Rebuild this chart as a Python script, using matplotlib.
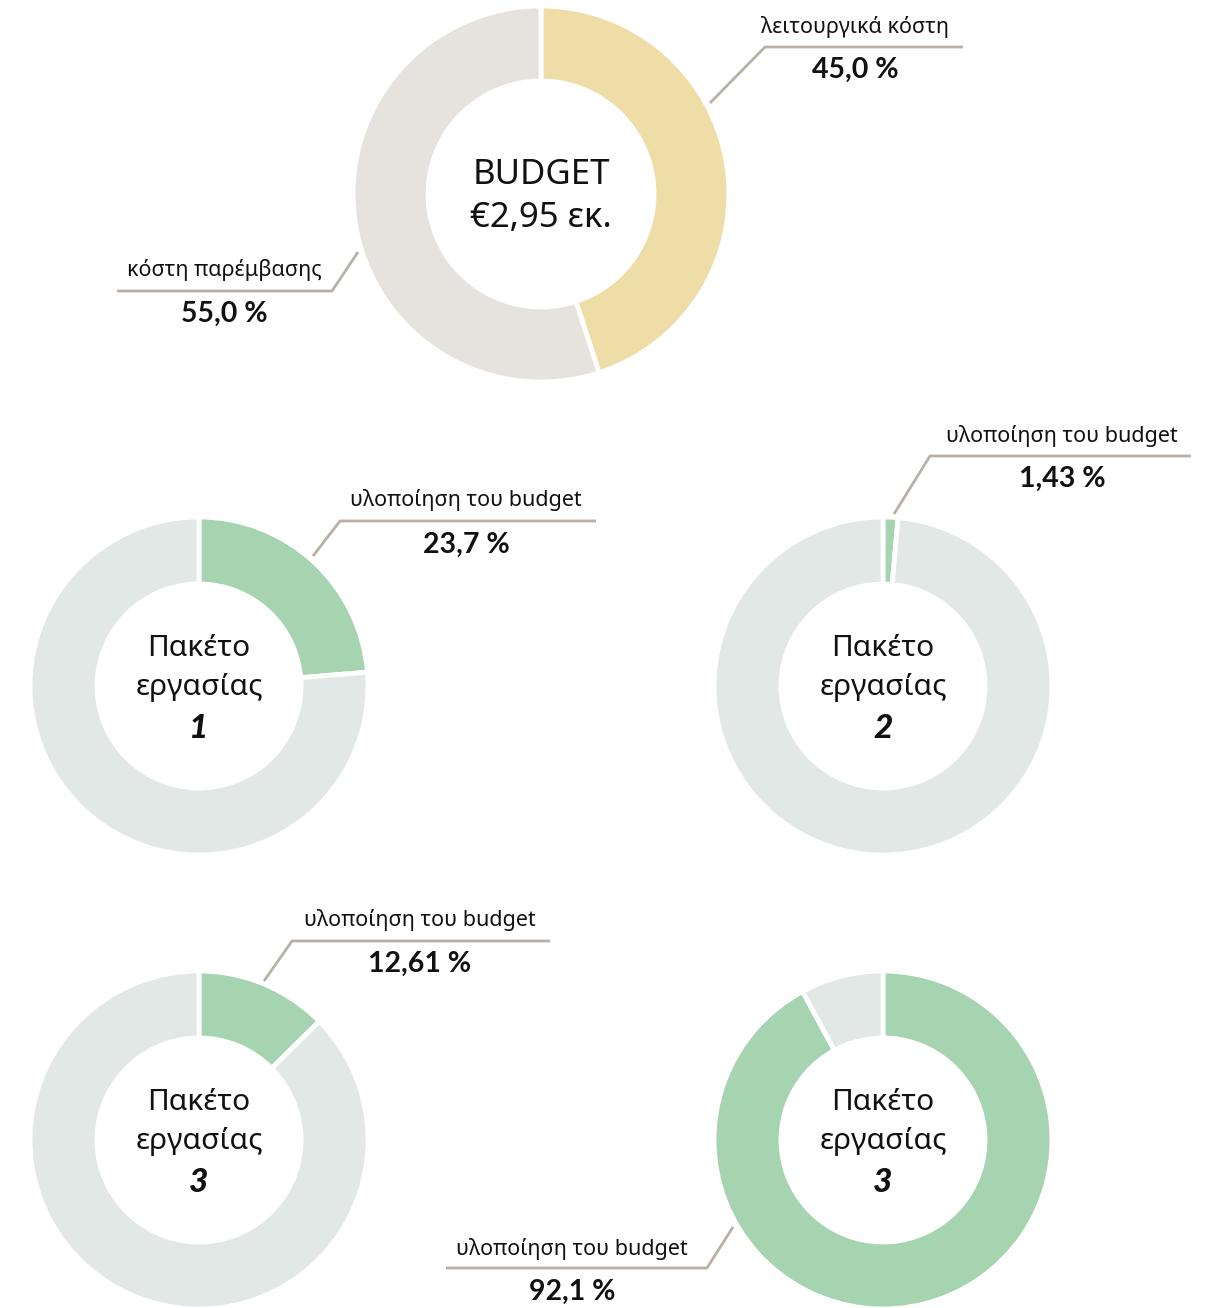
import matplotlib
matplotlib.use("Agg")
import matplotlib.pyplot as plt

plt.rcParams['font.family'] = ['Noto Sans', 'DejaVu Sans']

# data
top_labels = ['λειτουργικά κόστη', 'κόστη παρέμβασης']
top_values = [45.0, 55.0]
top_texts = ['45,0 %', '55,0 %']
budget_title = ['BUDGET', '€2,95 εκ.']

wp_label = 'υλοποίηση του budget'
wp_numbers = ['1', '2', '3', '3']
wp_values = [23.7, 1.43, 12.61, 92.1]
wp_texts = ['23,7 %', '1,43 %', '12,61 %', '92,1 %']

W, H = 1227, 1308
fig = plt.figure(figsize=(W / 100, H / 100), dpi=100)
ax = fig.add_axes([0, 0, 1, 1])

line_col = '#b9b0a6'
yellow = '#efdda8'
grey_top = '#e6e2dd'
green = '#a6d3b0'
grey_wp = '#e1e8e5'
bold_font = ['Lato', 'Open Sans', 'DejaVu Sans']


def Y(py):
    return H - py


def leader(pts):
    xs = [p[0] for p in pts]
    ys = [Y(p[1]) for p in pts]
    ax.plot(xs, ys, color=line_col, lw=2, solid_capstyle='butt', zorder=3)


def label(x, y_lab, y_val, name, val):
    ax.text(x, Y(y_lab), name, ha='center', va='center', fontsize=15.5, color='#111111')
    ax.text(x, Y(y_val), val, ha='center', va='center', fontsize=20.5, fontweight='bold',
            family=bold_font, color='#111111')


# top donut
ax.pie(top_values, center=(541, Y(194)), radius=188, startangle=90, counterclock=False,
       colors=[yellow, grey_top], wedgeprops=dict(width=75, edgecolor='white', linewidth=3.5))
ax.text(541, Y(175), budget_title[0], ha='center', va='center', fontsize=25, color='#111111')
ax.text(541, Y(218), budget_title[1], ha='center', va='center', fontsize=25, color='#111111')

leader([(710, 103), (765, 47), (963, 47)])
label(855, 27, 70, top_labels[0], top_texts[0])
leader([(117, 291), (332, 291), (358, 252)])
label(224, 270, 314, top_labels[1], top_texts[1])

# work package donuts
centers = [(199, 686), (883, 686), (199, 1140), (883, 1140)]
leaders = [
    [(313, 556), (340, 521), (596, 521)],
    [(894, 514), (930, 456), (1191, 456)],
    [(264, 981), (292, 941), (550, 941)],
    [(446, 1268), (707, 1268), (733, 1227)],
]
label_pos = [(466, 500, 545), (1062, 436, 479), (420, 920, 964), (572, 1249, 1292)]

for i, v in enumerate(wp_values):
    cx, cy = centers[i]
    ax.pie([v, 100 - v], center=(cx, Y(cy)), radius=169, startangle=90, counterclock=False,
           colors=[green, grey_wp], wedgeprops=dict(width=67, edgecolor='white', linewidth=3.5))
    ax.text(cx, Y(cy - 38), 'Πακέτο', ha='center', va='center', fontsize=21.5, color='#111111')
    ax.text(cx, Y(cy + 2), 'εργασίας', ha='center', va='center', fontsize=21.5, color='#111111')
    ax.text(cx, Y(cy + 42), wp_numbers[i], ha='center', va='center', fontsize=24,
            fontweight='black', fontstyle='italic', family=bold_font, color='#111111')
    leader(leaders[i])
    lx, ly1, ly2 = label_pos[i]
    label(lx, ly1, ly2, wp_label, wp_texts[i])

ax.set_xlim(0, W)
ax.set_ylim(0, H)
ax.set_aspect('auto')
ax.axis('off')

fig.savefig('out.png', dpi=100, facecolor='white')
